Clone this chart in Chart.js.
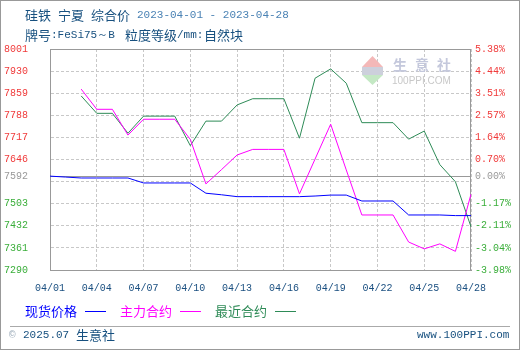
<!DOCTYPE html>
<html>
<head>
<meta charset="utf-8">
<script src="https://cdn.jsdelivr.net/npm/chart.js@4.4.1/dist/chart.umd.min.js"></script>
<style>
  html, body { margin: 0; padding: 0; background: #fff; }
  #wrap { position: relative; width: 520px; height: 350px; overflow: hidden; }
  #wrap canvas { position: absolute; left: 0; top: 0; }
  #frame { position: absolute; left: 0; top: 0; width: 518px; height: 348px; border: 1px solid #999; pointer-events: none; }
  .a { position: absolute; white-space: nowrap; line-height: 1; }
  .c { font-family: "Noto Sans CJK SC", sans-serif; font-size: 13px; }
  .m { font-family: "Liberation Mono", "DejaVu Sans Mono", monospace; font-size: 11px; }
  .t1 { color: #17507f; }
  .t2 { color: #4a82b4; }
  .sep { position: absolute; left: 10px; top: 326px; width: 500px; height: 1px; background: #aaa; }
  .lg { position: absolute; top: 311px; width: 21px; height: 1px; }
</style>
</head>
<body>
<div id="wrap">
  <canvas id="chart" width="520" height="350"></canvas>

  <span class="a c t1" style="left:25px;top:8px">硅铁</span>
  <span class="a c t1" style="left:58px;top:8px">宁夏</span>
  <span class="a c t1" style="left:91px;top:8px">综合价</span>
  <span class="a m t2" style="left:137px;top:10px">2023-04-01 - 2023-04-28</span>

  <span class="a c t1" style="left:25px;top:28px">牌号</span>
  <span class="a m t1" style="left:51px;top:30px">:FeSi75～B</span>
  <span class="a c t1" style="left:125px;top:28px">粒度等级</span>
  <span class="a m t1" style="left:177px;top:30px">/mm:</span>
  <span class="a c t1" style="left:204px;top:28px">自然块</span>

  <span class="a c" style="left:25px;top:304px;color:#0000ff">现货价格</span>
  <div class="lg" style="left:85px;background:#0000ff"></div>
  <span class="a c" style="left:120px;top:304px;color:#ff00ff">主力合约</span>
  <div class="lg" style="left:180px;background:#ff00ff"></div>
  <span class="a c" style="left:215px;top:304px;color:#2e8b57">最近合约</span>
  <div class="lg" style="left:275px;background:#2e8b57"></div>

  <div class="sep"></div>
  <span class="a m" style="left:9px;top:330px;color:#9aaab8">©</span>
  <span class="a m t1" style="left:23px;top:330px">2025.07</span>
  <span class="a c t1" style="left:76px;top:328px">生意社</span>
  <span class="a m t1" style="left:417px;top:330px">www.100PPI.com</span>

  <div id="frame"></div>
</div>
<script>
// 2023-04-01 .. 2023-04-28, one point per day
const dates = [
  '04/01', '04/02', '04/03', '04/04', '04/05', '04/06', '04/07',
  '04/08', '04/09', '04/10', '04/11', '04/12', '04/13', '04/14',
  '04/15', '04/16', '04/17', '04/18', '04/19', '04/20', '04/21',
  '04/22', '04/23', '04/24', '04/25', '04/26', '04/27', '04/28'
];

// 现货价格
const spotPrice = [
  7592, 7589, 7586, 7586, 7586, 7586, 7570,
  7570, 7570, 7570, 7537, 7532, 7526, 7526,
  7526, 7526, 7526, 7528, 7531, 7531, 7512,
  7512, 7512, 7467, 7467, 7467, 7465, 7465
];

// 主力合约
const mainContract = [
  null, null, 7872, 7807, 7807, 7724, 7775,
  7775, 7775, 7710, 7567, 7613, 7660, 7678,
  7678, 7678, 7535, 7647, 7759, 7612, 7467,
  7467, 7467, 7380, 7358, 7374, 7350, 7534
];

// 最近合约
const nearContract = [
  null, null, 7850, 7794, 7794, 7730, 7785,
  7785, 7785, 7690, 7769, 7769, 7821, 7841,
  7841, 7841, 7714, 7907, 7937, 7891, 7764,
  7764, 7764, 7711, 7737, 7629, 7574, 7429
];

const basePrice = 7592;          // 0.00% line
const priceMin = 7290, priceMax = 8001;
const pctMin = -3.98, pctMax = 5.38;
const gridSteps = 10;

const priceTicks = [];
const pctTicks = [];
for (let i = 0; i <= gridSteps; i++) {
  priceTicks.push(priceMin + (priceMax - priceMin) * i / gridSteps);
  const p = pctMin + (pctMax - pctMin) * i / gridSteps;
  if (Math.abs(p) > 0.3) pctTicks.push(p);
}
priceTicks.push(basePrice);
pctTicks.push(0);

const tickFont = { family: 'Liberation Mono', size: 10 };

function sideColor(v, zero) {
  if (Math.abs(v - zero) < 1e-6) return '#999999';
  return v > zero ? '#f03a3a' : '#3aae3a';
}

const framePlugin = {
  id: 'frame',
  beforeDatasetsDraw(chart) {
    const { ctx, chartArea: a, scales } = chart;
    ctx.save();
    // watermark
    ctx.fillStyle = '#f4b8b8';
    ctx.beginPath(); ctx.moveTo(372.5, 56); ctx.lineTo(383, 67); ctx.lineTo(362, 67); ctx.closePath(); ctx.fill();
    ctx.fillStyle = '#cdd0dc';
    ctx.fillRect(362, 67, 21, 8);
    ctx.fillStyle = '#c4e8c4';
    ctx.beginPath(); ctx.moveTo(362, 75); ctx.lineTo(383, 75); ctx.lineTo(372.5, 85); ctx.closePath(); ctx.fill();
    ctx.fillStyle = '#c4c8dc';
    ctx.font = 'bold 14px "Noto Sans CJK SC"';
    ctx.textBaseline = 'middle';
    ['生', '意', '社'].forEach((ch, i) => ctx.fillText(ch, 393 + i * 22, 65));
    ctx.fillStyle = '#c8c8c8';
    ctx.font = '10px "Liberation Sans"';
    ctx.fillText('100PPI.COM', 392, 81);

    // solid 0% line
    const y0 = Math.round(scales.y.getPixelForValue(basePrice)) + 0.5;
    ctx.strokeStyle = '#999';
    ctx.lineWidth = 1;
    ctx.beginPath(); ctx.moveTo(a.left, y0); ctx.lineTo(a.right, y0); ctx.stroke();
    // plot box
    ctx.strokeRect(a.left + 0.5, a.top + 0.5, a.right - a.left - 1, a.bottom - a.top);
    ctx.restore();
  }
};

function lineSet(label, data, color) {
  return {
    label: label,
    data: data,
    borderColor: color,
    backgroundColor: color,
    borderWidth: 1,
    pointRadius: 0,
    tension: 0,
    fill: false
  };
}

new Chart(document.getElementById('chart').getContext('2d'), {
  type: 'line',
  data: {
    labels: dates,
    datasets: [
      lineSet('现货价格', spotPrice, '#0000ff'),
      lineSet('主力合约', mainContract, '#ff00ff'),
      lineSet('最近合约', nearContract, '#2e8b57')
    ]
  },
  options: {
    responsive: false,
    animation: false,
    events: [],
    layout: { padding: { top: 49, left: 0, right: 0, bottom: 0 } },
    plugins: { legend: { display: false }, tooltip: { enabled: false } },
    scales: {
      x: {
        type: 'category',
        offset: false,
        grid: { color: '#c8c8c8', drawTicks: false },
        border: { display: true, color: '#999', dash: [3, 2] },
        ticks: {
          autoSkip: false,
          maxRotation: 0,
          padding: 12,
          color: '#1a4f80',
          font: tickFont,
          callback: function (val, idx) {
            return idx % 3 === 0 ? this.getLabelForValue(val) : null;
          }
        },
        afterFit: s => { s.height = 80; }
      },
      y: {
        position: 'left',
        min: priceMin,
        max: priceMax,
        grid: { color: '#c8c8c8', drawTicks: false },
        border: { display: true, color: '#999', dash: [3, 2] },
        afterBuildTicks: s => { s.ticks = priceTicks.map(v => ({ value: v })); },
        ticks: {
          padding: 22,
          font: tickFont,
          color: c => sideColor(c.tick.value, basePrice),
          callback: v => (v !== basePrice && Math.abs(v - basePrice) < 30) ? '' : String(Math.round(v))
        },
        afterFit: s => { s.width = 50; }
      },
      y1: {
        position: 'right',
        min: pctMin,
        max: pctMax,
        grid: { display: false, drawTicks: false },
        border: { display: false },
        afterBuildTicks: s => { s.ticks = pctTicks.map(v => ({ value: v })); },
        ticks: {
          padding: 4,
          font: tickFont,
          color: c => sideColor(c.tick.value, 0),
          callback: v => v.toFixed(2) + '%'
        },
        afterFit: s => { s.width = 49; }
      }
    }
  },
  plugins: [framePlugin]
});
</script>
</body>
</html>
